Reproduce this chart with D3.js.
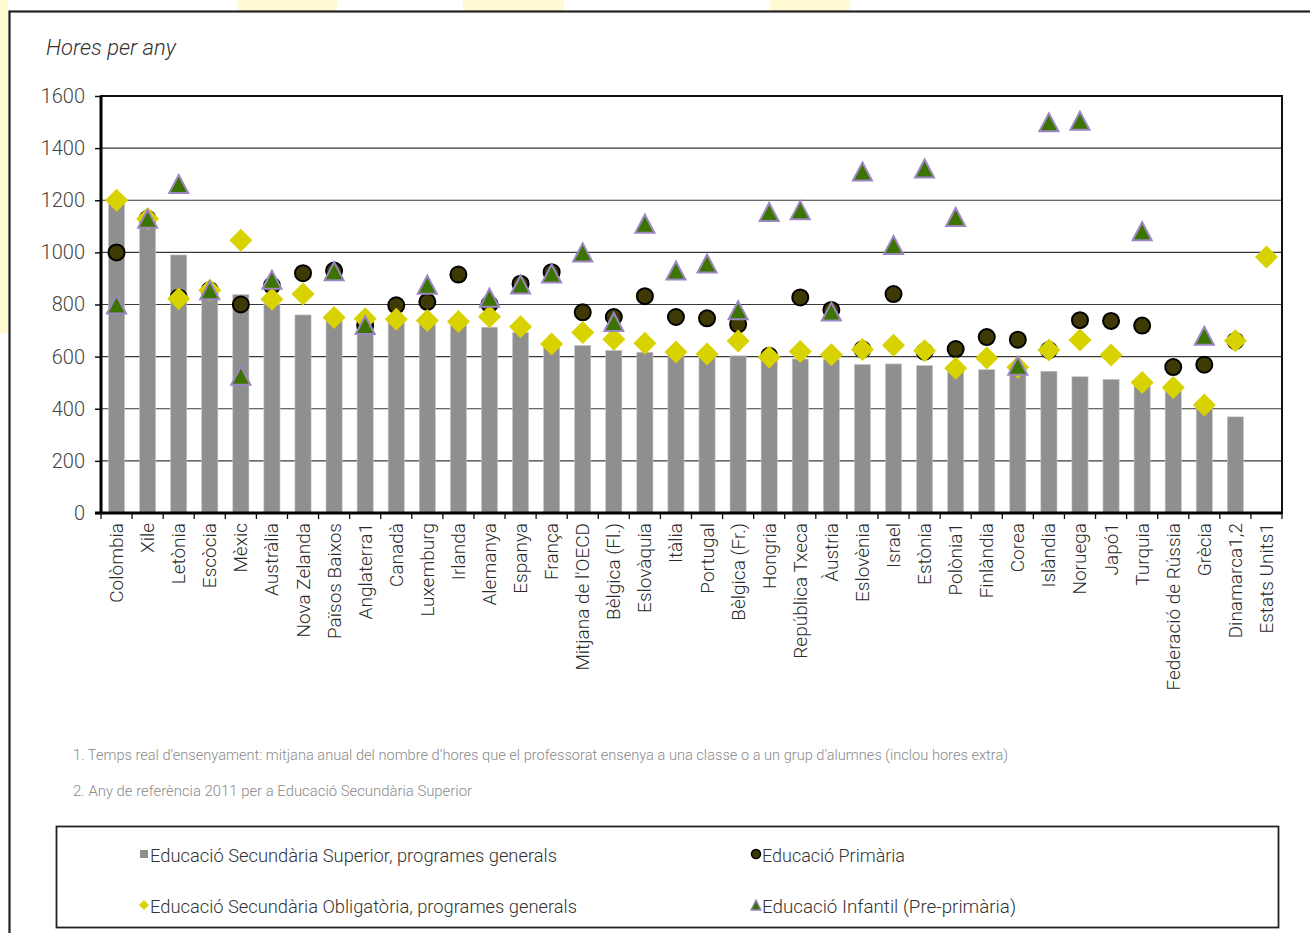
<!DOCTYPE html>
<html>
<head>
<meta charset="utf-8">
<script src="https://cdn.jsdelivr.net/npm/d3@7"></script>
<style>
  body { margin: 0; background: #fff; }
  svg { display: block; font-family: Roboto, "Open Sans", sans-serif; }
</style>
</head>
<body>
<svg id="chart"></svg>
<script>
// hours per year, teachers in public institutions
const countries = ["Colòmbia", "Xile", "Letònia", "Escòcia", "Mèxic", "Austràlia", "Nova Zelanda",
  "Països Baixos", "Anglaterra1", "Canadà", "Luxemburg", "Irlanda", "Alemanya", "Espanya", "França",
  "Mitjana de l'OECD", "Bèlgica (Fl.)", "Eslovàquia", "Itàlia", "Portugal", "Bèlgica (Fr.)", "Hongria",
  "República Txeca", "Àustria", "Eslovènia", "Israel", "Estònia", "Polònia1", "Finlàndia", "Corea",
  "Islàndia", "Noruega", "Japó1", "Turquia", "Federació de Rússia", "Grècia", "Dinamarca1,2", "Estats Units1"];

const upperSecondary = [1200, 1129, 990, 855, 838, 802, 760, 750, 725, 747, 739, 735, 713, 693, 645,
  643, 624, 617, 616, 609, 603, 601, 591, 589, 570, 572, 566, 551, 550, 552, 544, 523, 513, 504, 483,
  415, 369, null];

const primary = [1000, 1129, 827, 855, 800, 872, 920, 930, 720, 797, 810, 915, 801, 880, 924,
  770, 752, 832, 752, 747, 724, 603, 827, 779, 628, 840, 619, 629, 675, 665, 625, 740, 737, 719, 560,
  569, 660, null];

const lowerSecondary = [1200, 1129, 822, 855, 1047, 820, 840, 750, 745, 743, 739, 735, 753, 715, 648,
  693, 667, 651, 618, 610, 660, 598, 620, 607, 627, 644, 623, 555, 595, 559, 625, 664, 606, 501, 482,
  414, 661, 982];

const prePrimary = [800, 1129, 1262, 855, 527, 895, null, 928, 721, null, 876, null, 826, 877, 919,
  1000, 733, 1110, 930, 957, 778, 1155, 1162, 773, 1310, 1028, 1322, 1136, null, 565, 1499, 1505, null,
  1081, null, 680, null, null];

const yTicks = [0, 200, 400, 600, 800, 1000, 1200, 1400, 1600];

const footnotes = [
  "1. Temps real d’ensenyament: mitjana anual del nombre d’hores que el professorat ensenya a una classe o a un grup d’alumnes (inclou hores extra)",
  "2. Any de referència 2011 per a Educació Secundària Superior"
];

const W = 1310, H = 933;
const svg = d3.select("#chart").attr("width", W).attr("height", H);

// faint yellow shapes behind the frame
svg.append("g").attr("fill", "#fffad2")
  .selectAll("rect")
  .data([[0, 0, 8, 333], [238, 0, 99, 11], [463, 0, 101, 11], [770, 0, 80, 11]])
  .join("rect")
  .attr("x", d => d[0]).attr("y", d => d[1]).attr("width", d => d[2]).attr("height", d => d[3]);

// outer frame, runs off the page on the right and bottom
svg.append("rect")
  .attr("x", 9.5).attr("y", 11.5).attr("width", W + 20).attr("height", H + 20)
  .attr("fill", "#fff").attr("stroke", "#222").attr("stroke-width", 2.2);

const plot = { left: 101, right: 1282, top: 96, bottom: 513 };

const x = d3.scaleBand().domain(countries).range([plot.left, plot.right]);
const y = d3.scaleLinear().domain([0, 1600]).range([plot.bottom, plot.top]);
const barW = x.bandwidth() * 0.52;
const cx = d => x(d) + x.bandwidth() / 2;

svg.append("text")
  .attr("x", 46).attr("y", 55)
  .attr("font-size", 22).attr("font-style", "italic").attr("font-weight", 300)
  .attr("fill", "#333")
  .text("Hores per any");

// gridlines
svg.append("g")
  .selectAll("line")
  .data(yTicks.filter(t => t > 0 && t < 1600))
  .join("line")
  .attr("x1", plot.left).attr("x2", plot.right)
  .attr("y1", d => y(d)).attr("y2", d => y(d))
  .attr("stroke", "#3a3a3a").attr("stroke-width", 1.2);

// y axis
const yAxis = svg.append("g")
  .attr("transform", `translate(${plot.left},0)`)
  .call(d3.axisLeft(y).tickValues(yTicks).tickFormat(d3.format("d")).tickSize(6).tickPadding(10));
yAxis.select(".domain").remove();
yAxis.selectAll(".tick line").attr("stroke", "#111").attr("stroke-width", 1.5);
yAxis.selectAll(".tick text")
  .attr("font-size", 20).attr("font-weight", 300).attr("fill", "#444")
  .attr("font-family", "Roboto, sans-serif");

// bars
svg.append("g")
  .selectAll("rect")
  .data(countries.map((c, i) => ({ c, v: upperSecondary[i] })).filter(d => d.v != null))
  .join("rect")
  .attr("x", d => cx(d.c) - barW / 2)
  .attr("y", d => y(d.v))
  .attr("width", barW)
  .attr("height", d => y(0) - y(d.v))
  .attr("fill", "#8f8f8f")
  .attr("stroke", "#c8c8c8").attr("stroke-width", 0.6);

// plot border and axis lines
svg.append("rect")
  .attr("x", plot.left).attr("y", plot.top)
  .attr("width", plot.right - plot.left).attr("height", plot.bottom - plot.top)
  .attr("fill", "none").attr("stroke", "#111").attr("stroke-width", 2);
svg.append("line")
  .attr("x1", plot.left).attr("x2", plot.left).attr("y1", plot.top).attr("y2", plot.bottom + 1)
  .attr("stroke", "#000").attr("stroke-width", 3);
svg.append("line")
  .attr("x1", plot.left - 6).attr("x2", plot.right).attr("y1", plot.bottom).attr("y2", plot.bottom)
  .attr("stroke", "#000").attr("stroke-width", 3);

// x ticks at band edges
svg.append("g")
  .selectAll("line")
  .data(countries.map(c => x(c)).concat([plot.right]))
  .join("line")
  .attr("x1", d => d).attr("x2", d => d)
  .attr("y1", plot.bottom).attr("y2", plot.bottom + 6)
  .attr("stroke", "#111").attr("stroke-width", 1.3);

// x labels
svg.append("g")
  .selectAll("text")
  .data(countries)
  .join("text")
  .attr("transform", d => `translate(${cx(d) + 6.5},${plot.bottom + 10}) rotate(-90)`)
  .attr("text-anchor", "end")
  .attr("font-size", 19).attr("font-weight", 300).attr("fill", "#2a2a2a")
  .text(d => d);

const diamondPath = s => `M0,${-s}L${s},0L0,${s}L${-s},0Z`;
const trianglePath = (w, h) => `M0,${-h}L${w},${h}L${-w},${h}Z`;

function points(values) {
  return countries.map((c, i) => ({ c, v: values[i] })).filter(d => d.v != null);
}

// Educació Primària
svg.append("g")
  .selectAll("circle")
  .data(points(primary))
  .join("circle")
  .attr("cx", d => cx(d.c)).attr("cy", d => y(d.v)).attr("r", 8)
  .attr("fill", "#3f3a05").attr("stroke", "#000").attr("stroke-width", 2);

// Educació Secundària Obligatòria
svg.append("g")
  .selectAll("path")
  .data(points(lowerSecondary))
  .join("path")
  .attr("transform", d => `translate(${cx(d.c)},${y(d.v)})`)
  .attr("d", diamondPath(11.5))
  .attr("fill", "#d8d200");

// Educació Infantil
svg.append("g")
  .selectAll("path")
  .data(points(prePrimary))
  .join("path")
  .attr("transform", d => `translate(${cx(d.c)},${y(d.v)})`)
  .attr("d", trianglePath(9.5, 9))
  .attr("fill", "#3c7400").attr("stroke", "#9b86c2").attr("stroke-width", 2)
  .attr("stroke-linejoin", "miter");

// footnotes
svg.append("g")
  .selectAll("text")
  .data(footnotes)
  .join("text")
  .attr("x", 73).attr("y", (d, i) => 760 + i * 36)
  .attr("font-size", 15).attr("font-weight", 300).attr("fill", "#8a8a8a")
  .attr("textLength", (d, i) => [935, 399][i]).attr("lengthAdjust", "spacingAndGlyphs")
  .text(d => d);

// legend
svg.append("rect")
  .attr("x", 56.5).attr("y", 826.5).attr("width", 1222).attr("height", 101)
  .attr("fill", "#fff").attr("stroke", "#222").attr("stroke-width", 1.8);

const legendItems = [
  { label: "Educació Secundària Superior, programes generals", kind: "bar", x: 150, y: 862, w: 407 },
  { label: "Educació Primària", kind: "circle", x: 762, y: 862, w: 143 },
  { label: "Educació Secundària Obligatòria, programes generals", kind: "diamond", x: 150, y: 913, w: 427 },
  { label: "Educació Infantil (Pre-primària)", kind: "triangle", x: 762, y: 913, w: 254 }
];

const lg = svg.append("g").selectAll("g").data(legendItems).join("g");
lg.append("text")
  .attr("x", d => d.x).attr("y", d => d.y)
  .attr("font-size", 19).attr("font-weight", 300).attr("fill", "#333")
  .attr("textLength", d => d.w).attr("lengthAdjust", "spacingAndGlyphs")
  .text(d => d.label);
lg.each(function (d) {
  const g = d3.select(this);
  const mx = d.x - 6, my = d.y - 8;
  if (d.kind === "bar") {
    g.append("rect").attr("x", mx - 4).attr("y", my - 4).attr("width", 8).attr("height", 8).attr("fill", "#8f8f8f");
  } else if (d.kind === "circle") {
    g.append("circle").attr("cx", mx).attr("cy", my).attr("r", 4.5)
      .attr("fill", "#3f3a05").attr("stroke", "#000").attr("stroke-width", 1.5);
  } else if (d.kind === "diamond") {
    g.append("path").attr("transform", `translate(${mx},${my})`).attr("d", diamondPath(5)).attr("fill", "#d8d200");
  } else {
    g.append("path").attr("transform", `translate(${mx},${my})`).attr("d", trianglePath(5, 5))
      .attr("fill", "#3c7400").attr("stroke", "#9b86c2").attr("stroke-width", 1.3);
  }
});
</script>
</body>
</html>
